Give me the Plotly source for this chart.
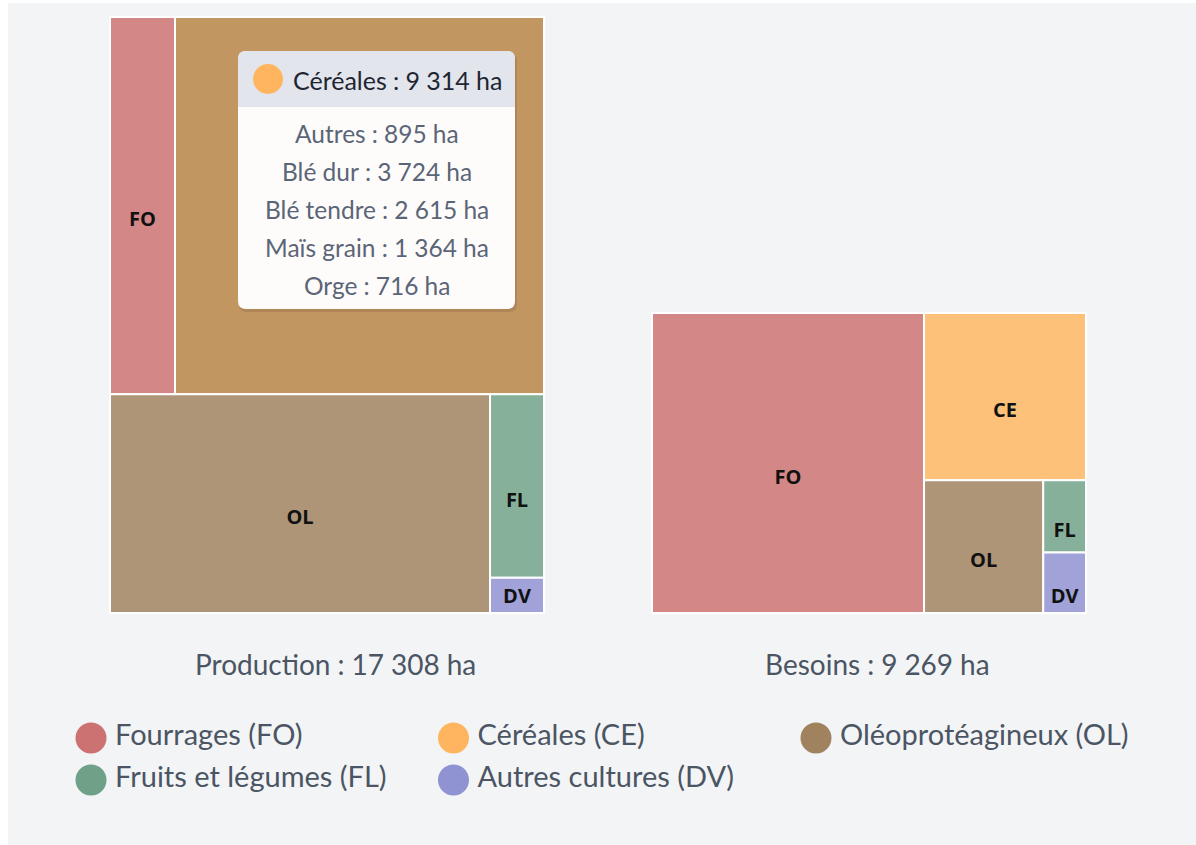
import plotly.graph_objects as go

W, H = 1196, 845

# ---------------- data ----------------
codes = ["FO", "CE", "OL", "FL", "DV"]
names = ["Fourrages (FO)", "Céréales (CE)", "Oléoprotéagineux (OL)",
         "Fruits et légumes (FL)", "Autres cultures (DV)"]
legend_colors = ["#cd7272", "#ffb55f", "#a0825f", "#6fa088", "#8f93d1"]
production_colors = ["#d38787", "#c29661", "#ae9578", "#86b09a", "#a0a2d8"]
besoins_colors = ["#d38787", "#fdc17a", "#ae9578", "#86b09a", "#a0a2d8"]

production_ha = [1641, 9314, 5563, 663, 127]
besoins_ha = [5810, 1928, 1127, 220, 184]

cereales_detail_labels = ["Autres", "Blé dur", "Blé tendre", "Maïs grain", "Orge"]
cereales_detail_ha = [895, 3724, 2615, 1364, 716]

# the hovered tile (Céréales) has its label hidden under the tooltip
hovered = "CE"

SP = "\u202f"  # narrow no-break space (French typographic spacing)


def fmt(v):
    return f"{v:,}".replace(",", SP)


def px(x):
    return x / W


def py(y):
    return 1 - y / H


def P(x, y):
    return f"{px(x):.5f},{py(y):.5f}"


def rounded_path(x0, y0, x1, y1, r, bottom=True):
    parts = [f"M{P(x0 + r, y0)}", f"L{P(x1 - r, y0)}", f"Q{P(x1, y0)} {P(x1, y0 + r)}"]
    if bottom:
        parts += [f"L{P(x1, y1 - r)}", f"Q{P(x1, y1)} {P(x1 - r, y1)}",
                  f"L{P(x0 + r, y1)}", f"Q{P(x0, y1)} {P(x0, y1 - r)}"]
    else:
        parts += [f"L{P(x1, y1)}", f"L{P(x0, y1)}"]
    parts += [f"L{P(x0, y0 + r)}", f"Q{P(x0, y0)} {P(x0 + r, y0)}", "Z"]
    return " ".join(parts)


def tile_labels(values, hide=None):
    # an empty first line pushes each label slightly below the tile centre (as in the
    # reference); very small tiles keep a single line so the label is not shrunk
    total = sum(values)
    out = []
    for c, v in zip(codes, values):
        lab = "" if c == hide else c
        out.append(lab if v / total < 0.01 else "\u00a0<br>" + lab)
    return out


FONT = "Lato"
TEXT_GREY = "#4b5563"

fig = go.Figure()

common_tm = dict(
    parents=[""] * len(codes),
    sort=False,
    branchvalues="total",
    tiling=dict(packing="squarify", squarifyratio=1, pad=0),
    pathbar=dict(visible=False),
    textposition="middle center",
    textfont=dict(family="Open Sans", size=20, color="#111111", weight=700),
    hoverinfo="skip",
    texttemplate="%{text}",
)

fig.add_trace(go.Treemap(
    labels=codes, values=production_ha, text=tile_labels(production_ha, hide=hovered),
    marker=dict(colors=production_colors, line=dict(color="#ffffff", width=2),
                pad=dict(t=0, l=0, r=0, b=0)),
    domain=dict(x=[px(110), px(544)], y=[py(613), py(17)]),
    **common_tm,
))
fig.add_trace(go.Treemap(
    labels=codes, values=besoins_ha, text=tile_labels(besoins_ha),
    marker=dict(colors=besoins_colors, line=dict(color="#ffffff", width=2),
                pad=dict(t=0, l=0, r=0, b=0)),
    domain=dict(x=[px(652), px(1086)], y=[py(613), py(313)]),
    **common_tm,
))

# ---------------- custom legend (grid of 3 columns) ----------------
for i, (nm, col) in enumerate(zip(names, legend_colors)):
    fig.add_trace(go.Scatter(
        x=[i % 3], y=[i // 3], mode="markers+text",
        marker=dict(size=31, color=col, line=dict(width=0)),
        text=["\u2009" + nm], textposition="middle right",
        textfont=dict(family=FONT, size=29, color=TEXT_GREY),
        showlegend=False, hoverinfo="skip", cliponaxis=False,
    ))

fig.update_xaxes(visible=False, range=[-91 / 362.5, (W - 91) / 362.5], fixedrange=True)
fig.update_yaxes(visible=False, range=[(H - 738) / 42, -738 / 42], fixedrange=True)

# ---------------- titles under treemaps ----------------
annotations = [
    dict(x=px(335), y=py(664), xref="paper", yref="paper", showarrow=False,
         text=f"Production{SP}:{SP}{fmt(sum(production_ha))}{SP}ha",
         font=dict(family=FONT, size=28, color=TEXT_GREY), xanchor="center", yanchor="middle"),
    dict(x=px(877), y=py(664), xref="paper", yref="paper", showarrow=False,
         text=f"Besoins{SP}:{SP}{fmt(sum(besoins_ha))}{SP}ha",
         font=dict(family=FONT, size=28, color=TEXT_GREY), xanchor="center", yanchor="middle"),
]

# ---------------- tooltip (Céréales) ----------------
tx0, ty0, tx1, ty1, thead = 238, 51, 515, 309, 107
shapes = [
    # white page strips (left/top)
    dict(type="rect", xref="paper", yref="paper", x0=0, x1=px(8), y0=0, y1=1,
         fillcolor="#ffffff", line=dict(width=0), layer="below"),
    dict(type="rect", xref="paper", yref="paper", x0=0, x1=1, y0=py(3), y1=1,
         fillcolor="#ffffff", line=dict(width=0), layer="below"),
    # shadow
    dict(type="path", xref="paper", yref="paper",
         path=rounded_path(tx0 + 1, ty0 + 2, tx1 + 2, ty1 + 3, 8),
         fillcolor="rgba(0,0,0,0.10)", line=dict(width=0)),
    dict(type="path", xref="paper", yref="paper",
         path=rounded_path(tx0, ty0, tx1, ty1, 8),
         fillcolor="#fdfcfb", line=dict(width=0)),
    dict(type="path", xref="paper", yref="paper",
         path=rounded_path(tx0, ty0, tx1, thead, 8, bottom=False),
         fillcolor="#e2e5eb", line=dict(width=0)),
    dict(type="circle", xref="paper", yref="paper",
         x0=px(253), x1=px(283), y0=py(94), y1=py(64),
         fillcolor=legend_colors[1], line=dict(width=0)),
]

annotations.append(dict(
    x=px(291), y=py(80), xref="paper", yref="paper", showarrow=False,
    text=f"Céréales{SP}:{SP}{fmt(production_ha[codes.index(hovered)])}{SP}ha",
    font=dict(family=FONT, size=25, color="#1f2533"), xanchor="left", yanchor="middle"))

for i, (lab, v) in enumerate(zip(cereales_detail_labels, cereales_detail_ha)):
    annotations.append(dict(
        x=px((tx0 + tx1) / 2), y=py(133 + 38.2 * i), xref="paper", yref="paper", showarrow=False,
        text=f"{lab}{SP}:{SP}{fmt(v)}{SP}ha",
        font=dict(family=FONT, size=24.5, color="#5b6577"), xanchor="center", yanchor="middle"))

fig.update_layout(
    width=W, height=H,
    margin=dict(l=0, r=0, t=0, b=0),
    paper_bgcolor="#f3f4f6",
    plot_bgcolor="rgba(0,0,0,0)",
    showlegend=False,
    shapes=shapes,
    annotations=annotations,
    font=dict(family=FONT),
)

fig.write_html("out.html", config={"displayModeBar": False},
               post_script="document.body.style.margin='0';document.body.style.overflow='hidden';")
